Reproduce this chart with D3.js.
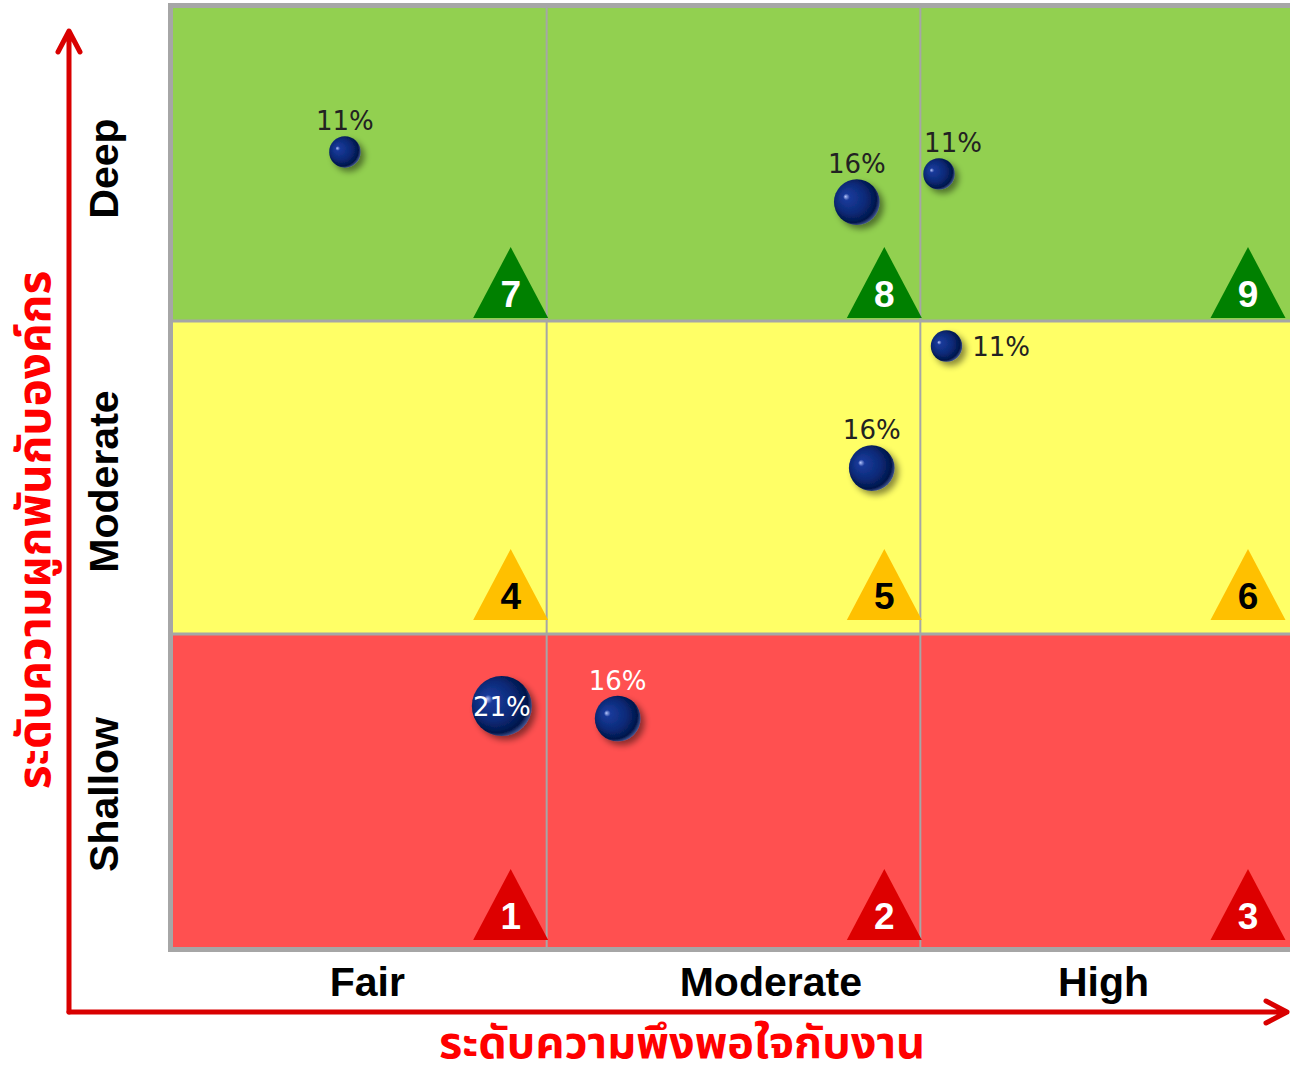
<!DOCTYPE html>
<html>
<head>
<meta charset="utf-8">
<script src="https://cdn.jsdelivr.net/npm/d3@7"></script>
<style>
  body { margin: 0; background: #fff; }
  svg { display: block; }
</style>
</head>
<body>
<div id="wrapper"></div>
<script>
// columns: job satisfaction, rows: engagement
const xCategories = ["Fair", "Moderate", "High"]
const yCategories = ["Shallow", "Moderate", "Deep"]
const cellColors = ["#FF5050", "#FFFF66", "#92D050"]
const zoneNumbers = [[1, 2, 3], [4, 5, 6], [7, 8, 9]]

// bubble points (x, y in cell units 0..3, share in %)
const pointX = [0.46, 1.83, 2.05, 2.07, 1.87, 0.88, 1.19]
const pointY = [2.54, 2.38, 2.47, 1.92, 1.53, 0.77, 0.73]
const pointShare = [11, 16, 11, 11, 16, 21, 16]
const pointLabelPos = ["above", "above", "aboveRight", "right", "above", "center", "above"]

const xTitle = "ระดับความพึงพอใจกับงาน"
const yTitle = "ระดับความผูกพันกับองค์กร"

function drawMatrix() {
  let dimensions = {
    width: 1290,
    height: 1074,
    plot: { left: 173, top: 8, right: 1294, bottom: 947 }
  }

  const wrapper = d3.select("#wrapper")
    .append("svg")
      .attr("width", dimensions.width)
      .attr("height", dimensions.height)

  const defs = wrapper.append("defs")
  const grad = defs.append("radialGradient")
    .attr("id", "ball")
    .attr("cx", "45%").attr("cy", "45%").attr("r", "60%")
    .attr("fx", "25%").attr("fy", "38%")
  grad.append("stop").attr("offset", "0%").attr("stop-color", "#b8c8ff")
  grad.append("stop").attr("offset", "12%").attr("stop-color", "#1a3a9a")
  grad.append("stop").attr("offset", "55%").attr("stop-color", "#0a2a78")
  grad.append("stop").attr("offset", "85%").attr("stop-color", "#03164a")
  grad.append("stop").attr("offset", "100%").attr("stop-color", "#5a6fb0")

  const shadow = defs.append("filter")
    .attr("id", "shadow")
    .attr("x", "-50%").attr("y", "-50%").attr("width", "200%").attr("height", "200%")
  shadow.append("feDropShadow")
    .attr("dx", 4).attr("dy", 4).attr("stdDeviation", 3)
    .attr("flood-color", "#000").attr("flood-opacity", 0.45)

  const xScale = d3.scaleLinear()
    .domain([0, 3])
    .range([dimensions.plot.left, dimensions.plot.right])

  const yScale = d3.scaleLinear()
    .domain([0, 3])
    .range([dimensions.plot.bottom, dimensions.plot.top])

  const rScale = d3.scaleLinear()
    .domain([0, 21])
    .range([0, 30])

  // cells
  const cells = []
  yCategories.forEach((row, r) => {
    xCategories.forEach((col, c) => {
      cells.push({ r, c, n: zoneNumbers[r][c] })
    })
  })

  const plot = wrapper.append("g")

  plot.selectAll("rect.cell")
    .data(cells)
    .join("rect")
      .attr("class", "cell")
      .attr("x", d => xScale(d.c))
      .attr("y", d => yScale(d.r + 1))
      .attr("width", d => xScale(d.c + 1) - xScale(d.c))
      .attr("height", d => yScale(d.r) - yScale(d.r + 1))
      .attr("fill", d => cellColors[d.r])

  // grid lines
  plot.selectAll("line.vgrid")
    .data([1, 2])
    .join("line")
      .attr("x1", d => xScale(d)).attr("x2", d => xScale(d))
      .attr("y1", yScale(3)).attr("y2", yScale(0))
      .attr("stroke", "#A6A6A6").attr("stroke-width", 2)

  plot.selectAll("line.hgrid")
    .data([1, 2])
    .join("line")
      .attr("x1", xScale(0)).attr("x2", xScale(3))
      .attr("y1", d => yScale(d)).attr("y2", d => yScale(d))
      .attr("stroke", "#A6A6A6").attr("stroke-width", 3)

  // frame (left, top, bottom)
  plot.append("path")
    .attr("d", `M${xScale(3)},${yScale(3) - 2.5} H${xScale(0) - 2.5} V${yScale(0) + 2.5} H${xScale(3)}`)
    .attr("fill", "none")
    .attr("stroke", "#A6A6A6")
    .attr("stroke-width", 5)

  // zone triangles, tucked into the lower right corner of each cell
  const triColor = ["#DD0000", "#FFC000", "#008000"]
  const triText = ["#fff", "#000", "#fff"]
  const triLift = [7, 14, 3]
  const triW = 75, triH = 71
  const tri = plot.selectAll("g.tri")
    .data(cells)
    .join("g")
      .attr("class", "tri")
      .attr("transform", d => `translate(${xScale(d.c + 1) - (d.c === 2 ? 46 : 36)},${yScale(d.r) - triLift[d.r]})`)
  tri.append("path")
    .attr("d", `M0,${-triH} L${triW / 2},0 L${-triW / 2},0 Z`)
    .attr("fill", d => triColor[d.r])
  tri.append("text")
    .attr("y", -11)
    .attr("text-anchor", "middle")
    .attr("font-family", "Arial, 'Liberation Sans', sans-serif")
    .attr("font-weight", "bold")
    .attr("font-size", 37)
    .attr("fill", d => triText[d.r])
    .text(d => d.n)

  // bubbles
  const points = pointX.map((x, i) => ({
    x, y: pointY[i], v: pointShare[i], pos: pointLabelPos[i]
  }))

  plot.selectAll("circle.ball")
    .data(points)
    .join("circle")
      .attr("class", "ball")
      .attr("cx", d => xScale(d.x))
      .attr("cy", d => yScale(d.y))
      .attr("r", d => rScale(d.v))
      .attr("fill", "url(#ball)")
      .attr("filter", "url(#shadow)")

  plot.selectAll("text.share")
    .data(points)
    .join("text")
      .attr("class", "share")
      .attr("font-family", "Tahoma, 'DejaVu Sans', sans-serif")
      .attr("font-size", 26)
      .attr("fill", d => d.y < 1 ? "#fff" : "#222")
      .attr("text-anchor", d => d.pos === "right" ? "start" : "middle")
      .attr("x", d => {
        const cx = xScale(d.x), r = rScale(d.v)
        if (d.pos === "right") return cx + r + 10
        if (d.pos === "aboveRight") return cx + 14
        return cx
      })
      .attr("y", d => {
        const cy = yScale(d.y), r = rScale(d.v)
        if (d.pos === "right" || d.pos === "center") return cy + 10
        return cy - r - 6
      })
      .text(d => d.v + "%")

  // category labels
  const labelFont = "Arial, 'Liberation Sans', sans-serif"
  const xLabelAt = [0.52, 1.6, 2.49]
  wrapper.selectAll("text.xcat")
    .data(xCategories)
    .join("text")
      .attr("x", (d, i) => xScale(xLabelAt[i]))
      .attr("y", 996)
      .attr("text-anchor", "middle")
      .attr("font-family", labelFont)
      .attr("font-weight", "bold")
      .attr("font-size", 41)
      .text(d => d)

  wrapper.selectAll("text.ycat")
    .data(yCategories)
    .join("text")
      .attr("transform", (d, i) => `translate(118,${yScale(i + 0.5) + 4}) rotate(-90)`)
      .attr("text-anchor", "middle")
      .attr("font-family", labelFont)
      .attr("font-weight", "bold")
      .attr("font-size", 41)
      .text(d => d)

  // axis arrows
  const red = "#D90000"
  const axisG = wrapper.append("g")
    .attr("stroke", red)
    .attr("stroke-width", 5)
    .attr("fill", "none")
    .attr("stroke-linecap", "round")
    .attr("stroke-linejoin", "round")
  axisG.append("path").attr("d", "M69,1012 V32 M58,52 L69,31 L80,52")
  axisG.append("path").attr("d", "M69,1012 H1287 M1266,1001 L1287,1012 L1266,1023")

  const thaiFont = "Tahoma, 'Noto Sans Thai', 'Leelawadee UI', sans-serif"
  wrapper.append("text")
    .attr("x", 682)
    .attr("y", 1058)
    .attr("text-anchor", "middle")
    .attr("font-family", thaiFont)
    .attr("font-weight", "bold")
    .attr("font-size", 45)
    .attr("fill", "#FF0000")
    .text(xTitle)

  wrapper.append("text")
    .attr("transform", "translate(50,530) rotate(-90)")
    .attr("text-anchor", "middle")
    .attr("font-family", thaiFont)
    .attr("font-weight", "bold")
    .attr("font-size", 46)
    .attr("fill", "#FF0000")
    .text(yTitle)
}

drawMatrix()
</script>
</body>
</html>
